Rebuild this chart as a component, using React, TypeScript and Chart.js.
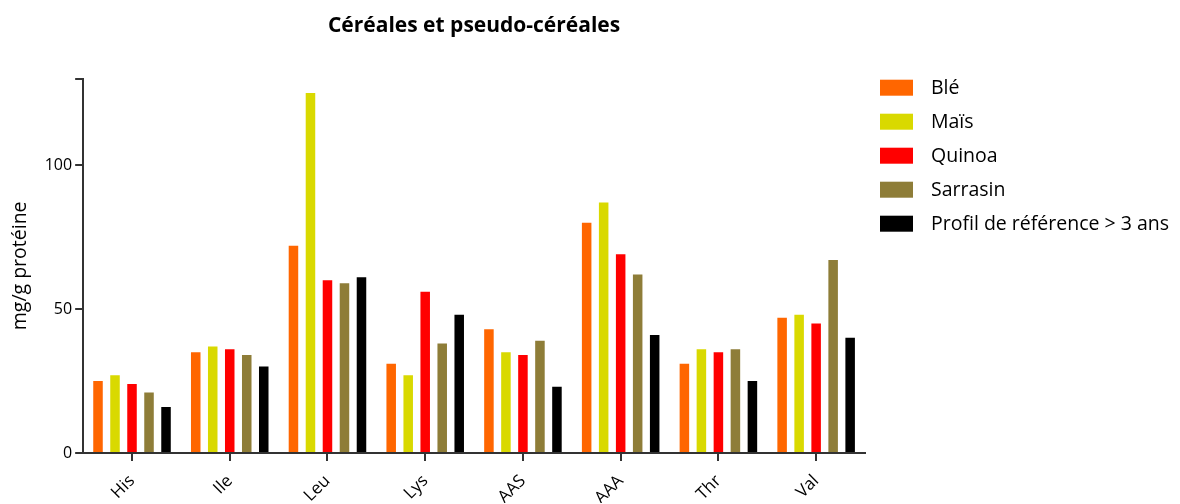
import React, { useEffect, useRef } from "react";
import { Chart, registerables } from "chart.js";

Chart.register(...registerables);

const categories = ["His", "Ile", "Leu", "Lys", "AAS", "AAA", "Thr", "Val"];
const ble = [25, 35, 72, 31, 43, 80, 31, 47];
const mais = [27, 37, 125, 27, 35, 87, 36, 48];
const quinoa = [24, 36, 60, 56, 34, 69, 35, 45];
const sarrasin = [21, 34, 59, 38, 39, 62, 36, 67];
const reference = [16, 30, 61, 48, 23, 41, 25, 40];
const seriesNames = ["Blé", "Maïs", "Quinoa", "Sarrasin", "Profil de référence > 3 ans"];
const seriesColors = ["#FF6600", "#D9D900", "#FF0000", "#8E7D38", "#000000"];
const yTickValues = [0, 50, 100, 130];
const yLabelled = [0, 50, 100];

const FONT = "'Open Sans', Lato, sans-serif";

// Legend drawn on the right of the plot area, using the datasets' labels and colours.
const sideLegend = {
  id: "sideLegend",
  afterDraw(chart: any) {
    const { ctx, chartArea } = chart;
    const x0 = chartArea.right + 15;
    const y0 = chartArea.top + 1;
    const rowGap = 34;
    ctx.save();
    ctx.font = `19.5px ${FONT}`;
    ctx.textBaseline = "middle";
    ctx.textAlign = "left";
    chart.data.datasets.forEach((ds: any, i: number) => {
      const y = y0 + i * rowGap;
      ctx.fillStyle = ds.backgroundColor;
      ctx.fillRect(x0, y, 33, 16);
      ctx.fillStyle = "#000";
      ctx.fillText(ds.label, x0 + 51, y + 9);
    });
    ctx.restore();
  },
};

export default function App() {
  const ref = useRef<HTMLCanvasElement | null>(null);

  useEffect(() => {
    if (!ref.current) return;
    const series = [ble, mais, quinoa, sarrasin, reference];
    const chart = new Chart(ref.current, {
      type: "bar",
      data: {
        labels: categories,
        datasets: series.map((d, i) => ({
          label: seriesNames[i],
          data: d,
          backgroundColor: seriesColors[i],
          borderWidth: 0,
          categoryPercentage: 0.87,
          barPercentage: 0.56,
        })),
      },
      options: {
        responsive: false,
        animation: false,
        layout: { padding: { left: 4, right: 315, top: 0, bottom: 1 } },
        plugins: {
          tooltip: { enabled: false },
          legend: { display: false },
          title: {
            display: true,
            text: "Céréales et pseudo-céréales",
            fullSize: false,
            color: "#000",
            font: { family: FONT, size: 21, weight: "bold", lineHeight: 1.2 },
            padding: { top: 13, bottom: 40.5 },
          },
        },
        scales: {
          x: {
            offset: true,
            afterFit: (scale: any) => {
              scale.height = 50;
            },
            grid: {
              display: true,
              offset: false,
              drawOnChartArea: false,
              drawTicks: true,
              tickLength: 8,
              color: "#333",
              lineWidth: 2,
            },
            border: { display: true, color: "#333", width: 2 },
            ticks: {
              minRotation: 45,
              maxRotation: 45,
              color: "#000",
              padding: 10,
              font: { family: FONT, size: 17 },
            },
          },
          y: {
            min: 0,
            max: 130,
            afterBuildTicks: (scale: any) => {
              scale.ticks = yTickValues.map((v) => ({ value: v }));
            },
            grid: {
              display: true,
              drawOnChartArea: false,
              drawTicks: true,
              tickLength: 8,
              color: "#333",
              lineWidth: 2,
            },
            border: { display: true, color: "#333", width: 2 },
            ticks: {
              color: "#000",
              padding: 3,
              font: { family: FONT, size: 16 },
              callback: (v: any) => (yLabelled.includes(Number(v)) ? String(v) : ""),
            },
            title: {
              display: true,
              text: "mg/g protéine",
              color: "#000",
              font: { family: FONT, size: 19.5, lineHeight: 1.2 },
              padding: { top: 4.3, bottom: 10 },
            },
          },
        },
      },
      plugins: [sideLegend],
    });
    return () => chart.destroy();
  }, []);

  return (
    <div style={{ position: "absolute", left: 0, top: 0, width: 1180, height: 504, background: "#fff" }}>
      <canvas ref={ref} width={1180} height={504} />
    </div>
  );
}
